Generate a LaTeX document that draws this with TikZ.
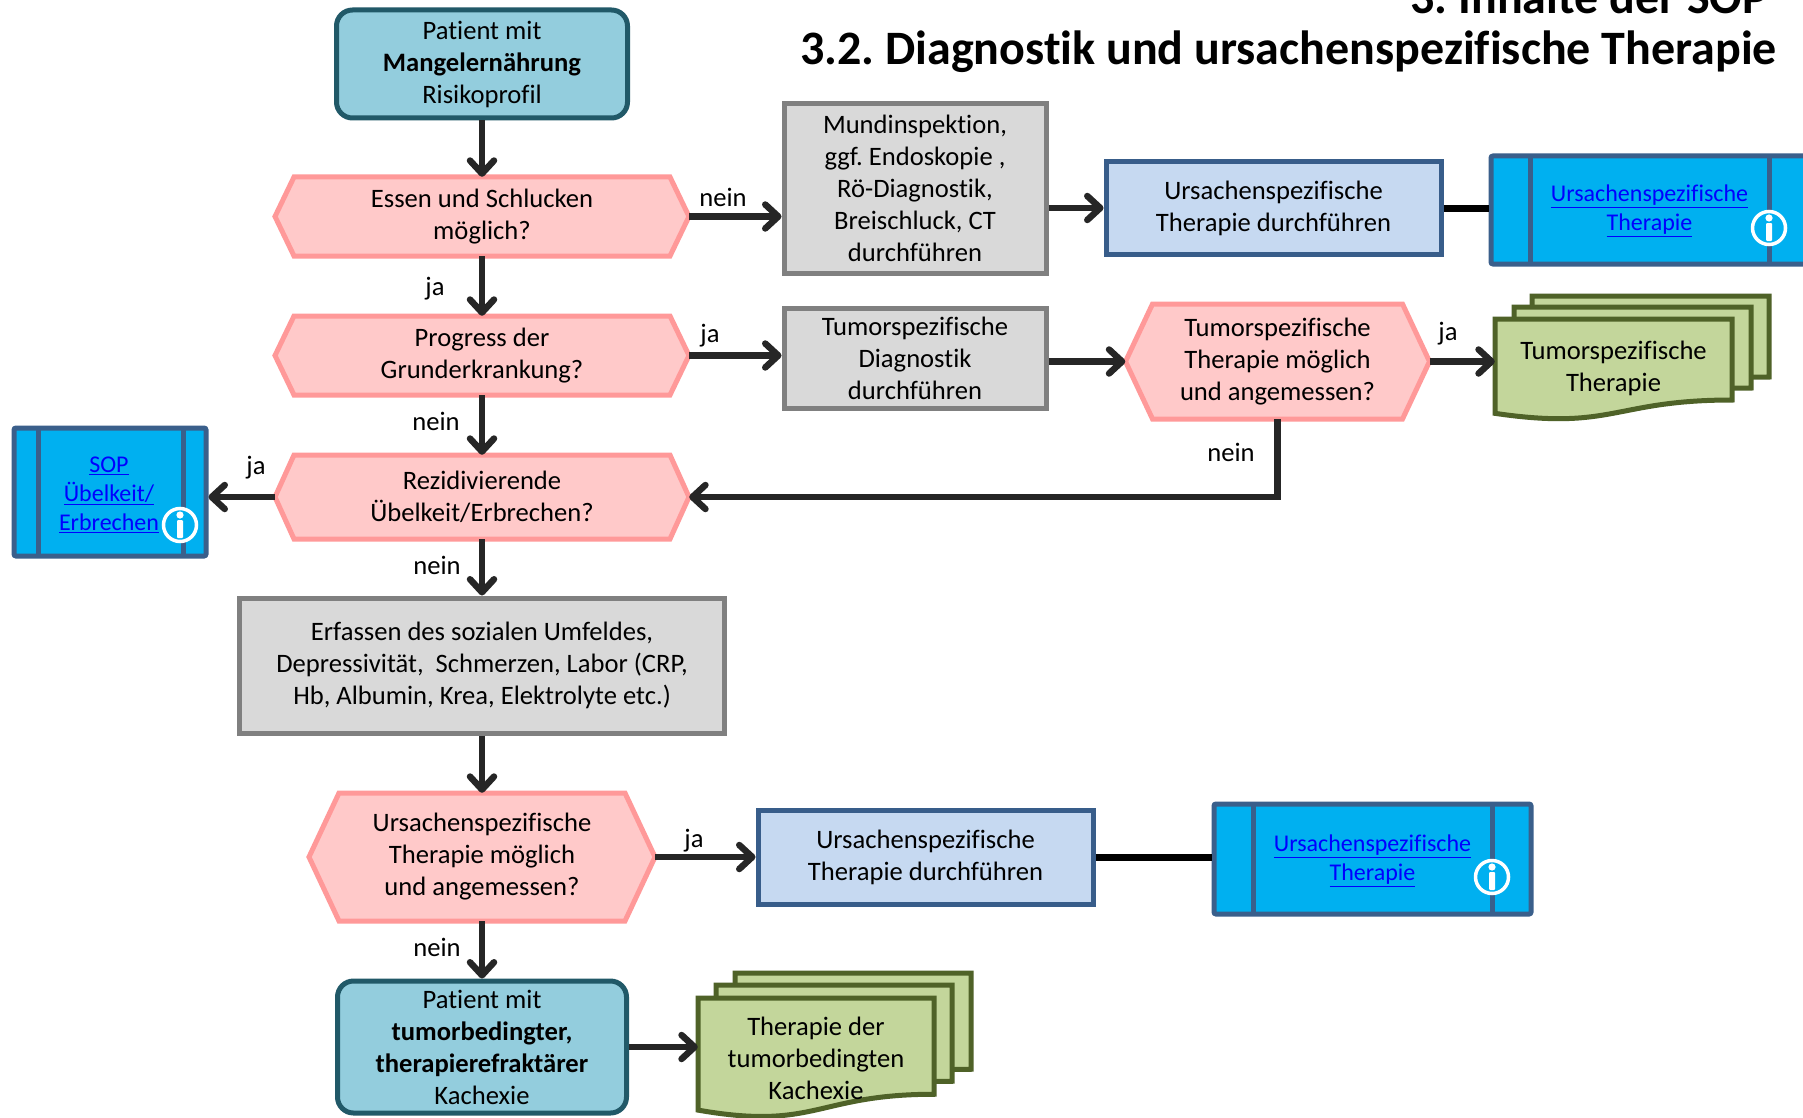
\documentclass[tikz,border=0pt]{standalone}
\usepackage{fontspec}
\setmainfont{Carlito}[Ligatures=NoCommon]
\usetikzlibrary{arrows.meta}
\frenchspacing
\definecolor{startfill}{HTML}{93CDDD}
\definecolor{startdraw}{HTML}{215968}
\definecolor{hexfill}{HTML}{FFC9C9}
\definecolor{hexdraw}{HTML}{FF9999}
\definecolor{grayfill}{HTML}{D9D9D9}
\definecolor{graydraw}{HTML}{808080}
\definecolor{bluefill}{HTML}{C6D9F1}
\definecolor{bluedraw}{HTML}{385D8A}
\definecolor{sopfill}{HTML}{00B0F0}
\definecolor{sopdraw}{HTML}{3A5F8B}
\definecolor{docfill}{HTML}{C3D69B}
\definecolor{docdraw}{HTML}{4F6228}
\definecolor{conncol}{HTML}{262626}
\definecolor{linkblue}{HTML}{0000FF}
\tikzset{
  txtbase/.style={font=\fontsize{26.6}{32}\selectfont, align=center, inner sep=0pt, text=black},
  startbox/.style={txtbase, draw=startdraw, fill=startfill, line width=5pt, rounded corners=16pt},
  graybox/.style={txtbase, draw=graydraw, fill=grayfill, line width=5pt},
  bluebox/.style={txtbase, draw=bluedraw, fill=bluefill, line width=5pt},
  sopbox/.style={draw=sopdraw, fill=sopfill, line width=5pt, rounded corners=2pt, inner sep=0pt},
  sopline/.style={draw=sopdraw, line width=5pt},
  hexshape/.style={draw=hexdraw, fill=hexfill, line width=5pt, line join=miter},
  docstyle/.style={draw=docdraw, fill=docfill, line width=5pt, line join=miter},
  linktext/.style={font=\fontsize{24}{29}\selectfont, align=center, text=linkblue, inner sep=0pt},
  conn/.style={draw=conncol, line width=6.5pt, -{Straight Barb[length=13pt,width=24pt,round]}},
  plainconn/.style={draw=black, line width=7pt},
  lbl/.style={font=\fontsize{26.6}{32}\selectfont, inner sep=0pt, text=black},
  titlestyle/.style={font=\bfseries\fontsize{48}{58}\selectfont, inner sep=0pt, text=black, anchor=base east},
}
% hexagon decision: name, cx, cy, hw, hh, slant, text
\newcommand\hexnode[7]{%
  \draw[hexshape] ({#2-#4},#3) -- ({#2-#4+#6},{#3-#5}) -- ({#2+#4-#6},{#3-#5}) -- ({#2+#4},#3)
     -- ({#2+#4-#6},{#3+#5}) -- ({#2-#4+#6},{#3+#5}) -- cycle;
  \node[txtbase, minimum width={2*#4}, minimum height={2*#5}] (#1) at (#2,#3) {#7};}
% document shape: x, y, w, h
\newcommand\docshape[4]{%
  \filldraw[docstyle] (#1,#2) -- ({#1+#3},#2) -- ({#1+#3},{#2+0.802*#4})
    .. controls ({#1+0.5*#3},{#2+0.802*#4}) and ({#1+0.5*#3},{#2+1.107*#4}) .. (#1,{#2+0.934*#4}) -- cycle;}
% info icon at (x,y)
\newcommand\infoicon[2]{%
  \filldraw[draw=white, fill=sopfill, line width=3.5pt] (#1,#2) circle[radius=16.5pt];
  \fill[white] (#1,{#2-10}) circle[radius=3.6pt];
  \fill[white, rounded corners=1pt] ({#1-3},{#2-5}) rectangle ({#1+3},{#2+13});}
\begin{document}
\begin{tikzpicture}[x=1pt,y=-1pt]
\useasboundingbox (0,0) rectangle (1803,1118);
\fill[white] (0,0) rectangle (1803,1118);
\clip (0,0) rectangle (1803,1118);

% titles
\node[titlestyle] (title0) at (1768,14) {3. Inhalte der SOP};
\node[titlestyle] (title) at (1777,65) {3.2. Diagnostik und ursachenspezifische Therapie};

% start / end
\node[startbox, minimum width=291pt, minimum height=108pt] (start) at (482,64)
  {Patient mit\\\textbf{Mangelernährung}\\Risikoprofil};
\node[startbox, minimum width=289pt, minimum height=132pt] (end) at (482,1047)
  {Patient mit\\\textbf{tumorbedingter,}\\\textbf{therapierefraktärer}\\Kachexie};

% decisions
\hexnode{d1}{482}{216.5}{207}{39.5}{19}{Essen und Schlucken\\möglich?}
\hexnode{d2}{482}{355.5}{207}{39.5}{19}{Progress der\\Grunderkrankung?}
\hexnode{d4}{482}{497}{207}{42}{19}{Rezidivierende\\Übelkeit/Erbrechen?}
\hexnode{d3}{1277.5}{361.5}{152}{57.5}{27}{Tumorspezifische\\Therapie möglich\\und angemessen?}
\hexnode{d5}{482}{857}{173}{64}{30}{Ursachenspezifische\\Therapie möglich\\und angemessen?}

% gray boxes
\node[graybox, minimum width=262pt, minimum height=169pt] (gray1) at (915,188.5)
  {Mundinspektion,\\ggf. Endoskopie ,\\Rö-Diagnostik,\\Breischluck, CT\\durchführen};
\node[graybox, minimum width=262pt, minimum height=100pt] (gray2) at (915,358)
  {Tumorspezifische\\Diagnostik\\durchführen};
\node[graybox, minimum width=485pt, minimum height=135pt] (gray3) at (482,665.5)
  {Erfassen des sozialen Umfeldes,\\Depressivität,\ \ Schmerzen, Labor (CRP,\\Hb, Albumin, Krea, Elektrolyte etc.)};

% blue boxes
\node[bluebox, minimum width=335pt, minimum height=92pt] (blue1) at (1273.5,208)
  {Ursachenspezifische\\Therapie durchführen};
\node[bluebox, minimum width=335pt, minimum height=94pt] (blue2) at (925.5,857)
  {Ursachenspezifische\\Therapie durchführen};

% SOP boxes
\node[sopbox, minimum width=317pt, minimum height=108pt] (sop1) at (1649.5,210) {};
\draw[sopline] (1530,156) -- (1530,264);
\draw[sopline] (1769,156) -- (1769,264);
\node[linktext] (sop1t) at (1649.5,211) {\underline{Ursachenspezifische}\\\underline{Therapie}};
\infoicon{1769}{228}

\node[sopbox, minimum width=317pt, minimum height=110pt] (sop2) at (1372.5,859) {};
\draw[sopline] (1253,804) -- (1253,914);
\draw[sopline] (1492,804) -- (1492,914);
\node[linktext] (sop2t) at (1372.5,861) {\underline{Ursachenspezifische}\\\underline{Therapie}};
\infoicon{1492}{877}

\node[sopbox, minimum width=192pt, minimum height=128pt] (sopL) at (110,492) {};
\draw[sopline] (38,428) -- (38,556);
\draw[sopline] (183,428) -- (183,556);
\node[linktext] (sopLt) at (109,495) {\underline{SOP}\\\underline{Übelkeit/}\\\underline{Erbrechen}};
\infoicon{180}{525}

% document stacks
\docshape{1532}{296}{237}{101}
\docshape{1514}{307}{237}{101}
\docshape{1495}{319}{237}{101}
\node[txtbase, minimum width=237pt] (doc1) at (1613.5,368) {Tumorspezifische\\Therapie};

\docshape{735}{973}{236}{120}
\docshape{716}{985}{236}{120}
\docshape{698}{998}{236}{120}
\node[txtbase, minimum width=236pt] (doc2) at (816,1058) {Therapie der\\tumorbedingten\\Kachexie};

% connectors
\draw[conn] (start.south) -- (d1.north);
\draw[conn] (d1.east) -- (d1.east -| gray1.west);
\draw[conn] (blue1.west -| gray1.east) -- (blue1.west);
\draw[plainconn] (blue1.east) -- (blue1.east -| sop1.west);
\draw[conn] (d1.south) -- (d2.north);
\draw[conn] (d2.east) -- (d2.east -| gray2.west);
\draw[conn] (d3.west -| gray2.east) -- (d3.west);
\draw[conn] (d3.east) -- (d3.east -| doc1.west);
\draw[conn] (d3.south) |- (d4.east);
\draw[conn] (d2.south) -- (d4.north);
\draw[conn] (d4.west) -- (d4.west -| sopL.east);
\draw[conn] (d4.south) -- (gray3.north);
\draw[conn] (gray3.south) -- (d5.north);
\draw[conn] (d5.east) -- (d5.east -| blue2.west);
\draw[plainconn] (blue2.east) -- (blue2.east -| sop2.west);
\draw[conn] (d5.south) -- (end.north);
\draw[conn] (end.east) -- (end.east -| doc2.west);

% labels
\node[lbl] (l1) at (723,197) {nein};
\node[lbl] (l2) at (435,289) {ja};
\node[lbl] (l3) at (710,336) {ja};
\node[lbl] (l4) at (1448,334) {ja};
\node[lbl] (l5) at (1231,452) {nein};
\node[lbl] (l6) at (436,421) {nein};
\node[lbl] (l7) at (256,468) {ja};
\node[lbl] (l8) at (437,565) {nein};
\node[lbl] (l9) at (694,841) {ja};
\node[lbl] (l10) at (437,947) {nein};
\end{tikzpicture}
\end{document}
